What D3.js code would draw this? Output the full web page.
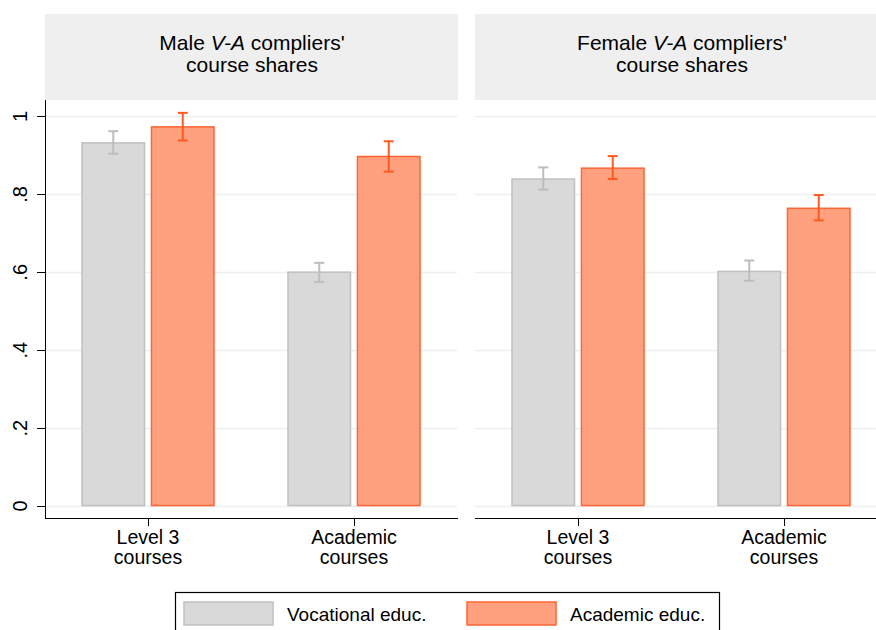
<!DOCTYPE html>
<meta charset="utf-8">
<style>
  body { margin: 0; background: #fff; }
  svg { font-family: "Liberation Sans", Arial, sans-serif; }
  .axis path, .axis line { stroke: #000; shape-rendering: crispEdges; }
  .axis text { font-size: 20px; fill: #000; }
</style>
<body>
<svg width="876" height="630"></svg>
<script src="https://cdn.jsdelivr.net/npm/d3@7"></script>
<script>
// data
var panels = ["Male", "Female"];
var groups = ["Level 3 courses", "Academic courses"];
var series = ["Vocational educ.", "Academic educ."];

var maleShare   = [[0.931, 0.599], [0.972, 0.896]];   // [series][group]
var maleLow     = [[0.903, 0.574], [0.937, 0.857]];
var maleHigh    = [[0.961, 0.623], [1.008, 0.935]];
var femaleShare = [[0.838, 0.601], [0.866, 0.763]];
var femaleLow   = [[0.811, 0.577], [0.838, 0.732]];
var femaleHigh  = [[0.868, 0.629], [0.897, 0.797]];
var yTicks = [0, 0.2, 0.4, 0.6, 0.8, 1];
var yTickLabels = ["0", ".2", ".4", ".6", ".8", "1"];

var fills = ["#d9d9d9", "#ffa17f"];
var strokes = ["#c0c0c0", "#ff6633"];
var errColors = ["#bdbdbd", "#ff5a1f"];

var svg = d3.select("svg");
var panelX = [45, 475], panelW = 412;
var plotTop = 100, plotBottom = 518;

var y = d3.scaleLinear().domain([-0.032, 1.041]).range([plotBottom, plotTop]);
var xg = d3.scalePoint().domain(groups).range([0, panelW]).padding(0.5);
var xs = d3.scaleBand().domain(series).range([-66, 66]).paddingInner(0.1);

var panelData = [
  {name: panels[0], share: maleShare, lo: maleLow, hi: maleHigh},
  {name: panels[1], share: femaleShare, lo: femaleLow, hi: femaleHigh}
];

panelData.forEach(function(p, pi) {
  var g = svg.append("g").attr("transform", "translate(" + panelX[pi] + ",0)");

  // header strip
  g.append("rect").attr("x", 0).attr("y", 14).attr("width", panelW + 1).attr("height", 86)
    .attr("fill", "#efefef");
  var t = g.append("text").attr("text-anchor", "middle").attr("font-size", "21px")
    .attr("x", panelW / 2 + 1).attr("y", 50);
  t.append("tspan").text(p.name + " ");
  t.append("tspan").attr("font-style", "italic").text("V-A");
  t.append("tspan").text(" compliers'");
  g.append("text").attr("text-anchor", "middle").attr("font-size", "21px")
    .attr("x", panelW / 2 + 1).attr("y", 72).text("course shares");

  // gridlines
  g.selectAll(".grid").data(yTicks).enter().append("line")
    .attr("x1", 0).attr("x2", panelW)
    .attr("y1", function(d) { return Math.round(y(d)) + 0.5; })
    .attr("y2", function(d) { return Math.round(y(d)) + 0.5; })
    .attr("stroke", "#e9eff2").attr("stroke-width", 1.5);

  // bars + error bars
  series.forEach(function(s, si) {
    groups.forEach(function(grp, gi) {
      var bx = xg(grp) + xs(s);
      g.append("rect")
        .attr("x", bx).attr("width", xs.bandwidth())
        .attr("y", y(p.share[si][gi])).attr("height", y(0) - y(p.share[si][gi]))
        .attr("fill", fills[si]).attr("stroke", strokes[si]).attr("stroke-width", 1.5);
      var cx = bx + xs.bandwidth() / 2;
      var eb = g.append("g").attr("stroke", errColors[si]).attr("stroke-width", 2);
      eb.append("line").attr("x1", cx).attr("x2", cx)
        .attr("y1", y(p.lo[si][gi])).attr("y2", y(p.hi[si][gi]));
      [p.lo[si][gi], p.hi[si][gi]].forEach(function(v) {
        eb.append("line").attr("x1", cx - 5).attr("x2", cx + 5)
          .attr("y1", y(v)).attr("y2", y(v));
      });
    });
  });

  // x axis
  var xa = g.append("g").attr("class", "axis")
    .attr("transform", "translate(0," + plotBottom + ")")
    .call(d3.axisBottom(xg).tickSize(8).tickSizeOuter(0).tickFormat(""));
  xa.select(".domain").attr("d", "M0,0.5H" + (panelW + 1));
  groups.forEach(function(grp) {
    var words = grp.split(" ");
    var lbl = g.append("text").attr("text-anchor", "middle").attr("font-size", "19.5px");
    lbl.append("tspan").attr("x", xg(grp)).attr("y", 544)
      .text(words.slice(0, words.length - 1).join(" "));
    lbl.append("tspan").attr("x", xg(grp)).attr("y", 564).text(words[words.length - 1]);
  });

  // y axis on first panel only
  if (pi === 0) {
    var ya = g.append("g").attr("class", "axis")
      .call(d3.axisLeft(y).tickValues(yTicks).tickSize(8).tickSizeOuter(0)
        .tickFormat(function(d, i) { return yTickLabels[i]; }));
    ya.select(".domain").attr("d", "M0.5," + plotTop + "V" + (plotBottom + 1));
    ya.selectAll(".tick text")
      .attr("transform", "translate(-25,0) rotate(-90)")
      .attr("x", 0).attr("y", 0).attr("dy", "0.35em")
      .style("text-anchor", "middle");
  }
});

// legend
var lg = svg.append("g");
lg.append("rect").attr("x", 175.5).attr("y", 592.5).attr("width", 544).attr("height", 60)
  .attr("fill", "#fff").attr("stroke", "#000").attr("stroke-width", 1.2);
var legX = [184, 467];
series.forEach(function(s, i) {
  lg.append("rect").attr("x", legX[i]).attr("y", 602).attr("width", 89).attr("height", 23)
    .attr("fill", fills[i]).attr("stroke", strokes[i]).attr("stroke-width", 1.5);
  lg.append("text").attr("x", legX[i] + 103).attr("y", 621).attr("font-size", "19px").text(s);
});
</script>
</body>
